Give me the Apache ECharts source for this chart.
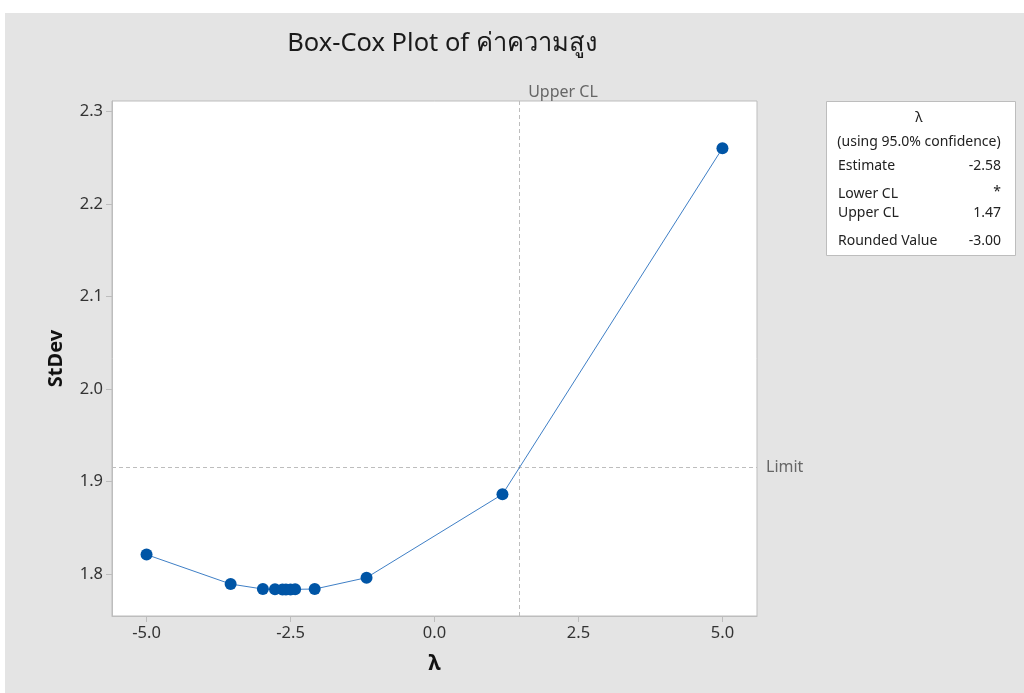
<!DOCTYPE html>
<html>
<head>
<meta charset="utf-8">
<script src="https://cdn.jsdelivr.net/npm/echarts@6/dist/echarts.min.js"></script>
<style>
html,body{margin:0;padding:0;background:#fff;}
#main{width:1024px;height:693px;}
</style>
</head>
<body>
<div id="main"></div>
<script>
// ---- data ----
const lambdaValues = [-5.00, -3.54, -2.98, -2.77, -2.64, -2.58, -2.50, -2.42, -2.08, -1.18, 1.18, 5.00];
const stdevValues  = [1.8213, 1.7895, 1.7841, 1.7838, 1.7837, 1.7837, 1.7837, 1.7838, 1.7841, 1.7964, 1.8864, 2.2600];
const xTicks = [-5.0, -2.5, 0.0, 2.5, 5.0];
const yTicks = [1.8, 1.9, 2.0, 2.1, 2.2, 2.3];
const upperCL = 1.47;
const limitValue = 1.9155;
const titleText = 'Box-Cox Plot of ค่าความสูง';
const legendTitle = 'λ';
const legendSubtitle = '(using 95.0% confidence)';
const legendLabels = ['Estimate', 'Lower CL', 'Upper CL', 'Rounded Value'];
const legendValues = ['-2.58', '*', '1.47', '-3.00'];

const FONT = '"Noto Sans", "Open Sans", sans-serif';
const chart = echarts.init(document.getElementById('main'), null, {renderer: 'canvas'});

const pts = lambdaValues.map((x, i) => [x, stdevValues[i]]);
const legendRowsY = [166, 194, 213, 241];

const graphicEls = [
  {type: 'rect', z: -10, shape: {x: 5, y: 13, width: 1019, height: 680}, style: {fill: '#e4e4e4'}, silent: true},
  {type: 'rect', z: 10, shape: {x: 826.5, y: 101.5, width: 189, height: 154}, style: {fill: '#fff', stroke: '#bdbdbd', lineWidth: 1}},
  {type: 'text', z: 11, x: 919, y: 118, style: {text: legendTitle, font: '14px ' + FONT, fill: '#222', align: 'center', verticalAlign: 'middle'}},
  {type: 'text', z: 11, x: 919, y: 142, style: {text: legendSubtitle, font: '14px ' + FONT, fill: '#222', align: 'center', verticalAlign: 'middle'}}
];
legendLabels.forEach((lab, i) => {
  graphicEls.push({type: 'text', z: 11, x: 838, y: legendRowsY[i], style: {text: lab, font: '14px ' + FONT, fill: '#222', align: 'left', verticalAlign: 'middle'}});
  graphicEls.push({type: 'text', z: 11, x: 1001, y: legendRowsY[i] - (legendValues[i] === '*' ? 2 : 0), style: {text: legendValues[i], font: '14px ' + FONT, fill: '#222', align: 'right', verticalAlign: 'middle'}});
});

const option = {
  backgroundColor: '#ffffff',
  animation: false,
  textStyle: {fontFamily: FONT},
  title: {
    text: titleText,
    left: 437, top: 26, textAlign: 'center',
    textStyle: {fontSize: 25.5, fontWeight: 'normal', color: '#1a1a1a', fontFamily: FONT}
  },
  grid: {
    left: 112, right: 267, top: 101, bottom: 77,
    show: true, backgroundColor: '#ffffff', borderColor: '#bdbdbd', borderWidth: 1
  },
  xAxis: {
    type: 'value', min: -5.6, max: 5.6,
    name: 'λ', nameLocation: 'middle', nameGap: 38,
    nameTextStyle: {fontSize: 21, fontWeight: 'bold', color: '#111', fontFamily: FONT},
    axisLine: {show: true, onZero: false, lineStyle: {color: '#bdbdbd'}},
    axisTick: {show: true, length: 6, lineStyle: {color: '#bdbdbd'}, customValues: xTicks},
    axisLabel: {fontSize: 16.5, color: '#333', margin: 9, customValues: xTicks, formatter: v => v.toFixed(1)},
    splitLine: {show: false}
  },
  yAxis: {
    type: 'value', min: 1.755, max: 2.311,
    name: 'StDev', nameLocation: 'middle', nameGap: 46,
    nameTextStyle: {fontSize: 20, fontWeight: 'bold', color: '#111', fontFamily: FONT},
    axisLine: {show: true, onZero: false, lineStyle: {color: '#bdbdbd'}},
    axisTick: {show: true, length: 6, lineStyle: {color: '#bdbdbd'}, customValues: yTicks},
    axisLabel: {fontSize: 16.5, color: '#333', margin: 9, customValues: yTicks, formatter: v => v.toFixed(1)},
    splitLine: {show: false}
  },
  series: [{
    type: 'line',
    data: pts,
    symbol: 'circle', symbolSize: 12,
    itemStyle: {color: '#0055a6'},
    lineStyle: {color: '#3f7fc6', width: 1},
    z: 5,
    markLine: {
      silent: true, symbol: 'none', animation: false, precision: 4,
      lineStyle: {type: [4, 3], color: '#bdbdbd', width: 1},
      data: [
        {xAxis: upperCL, label: {show: true, formatter: 'Upper CL', position: 'end', distance: 1, color: '#666', fontSize: 16, align: 'left', offset: [9, 0], fontFamily: FONT}},
        {yAxis: limitValue, label: {show: true, formatter: 'Limit', position: 'end', distance: 9, color: '#666', fontSize: 16, fontFamily: FONT}}
      ]
    }
  }],
  graphic: graphicEls
};
chart.setOption(option);
</script>
</body>
</html>
